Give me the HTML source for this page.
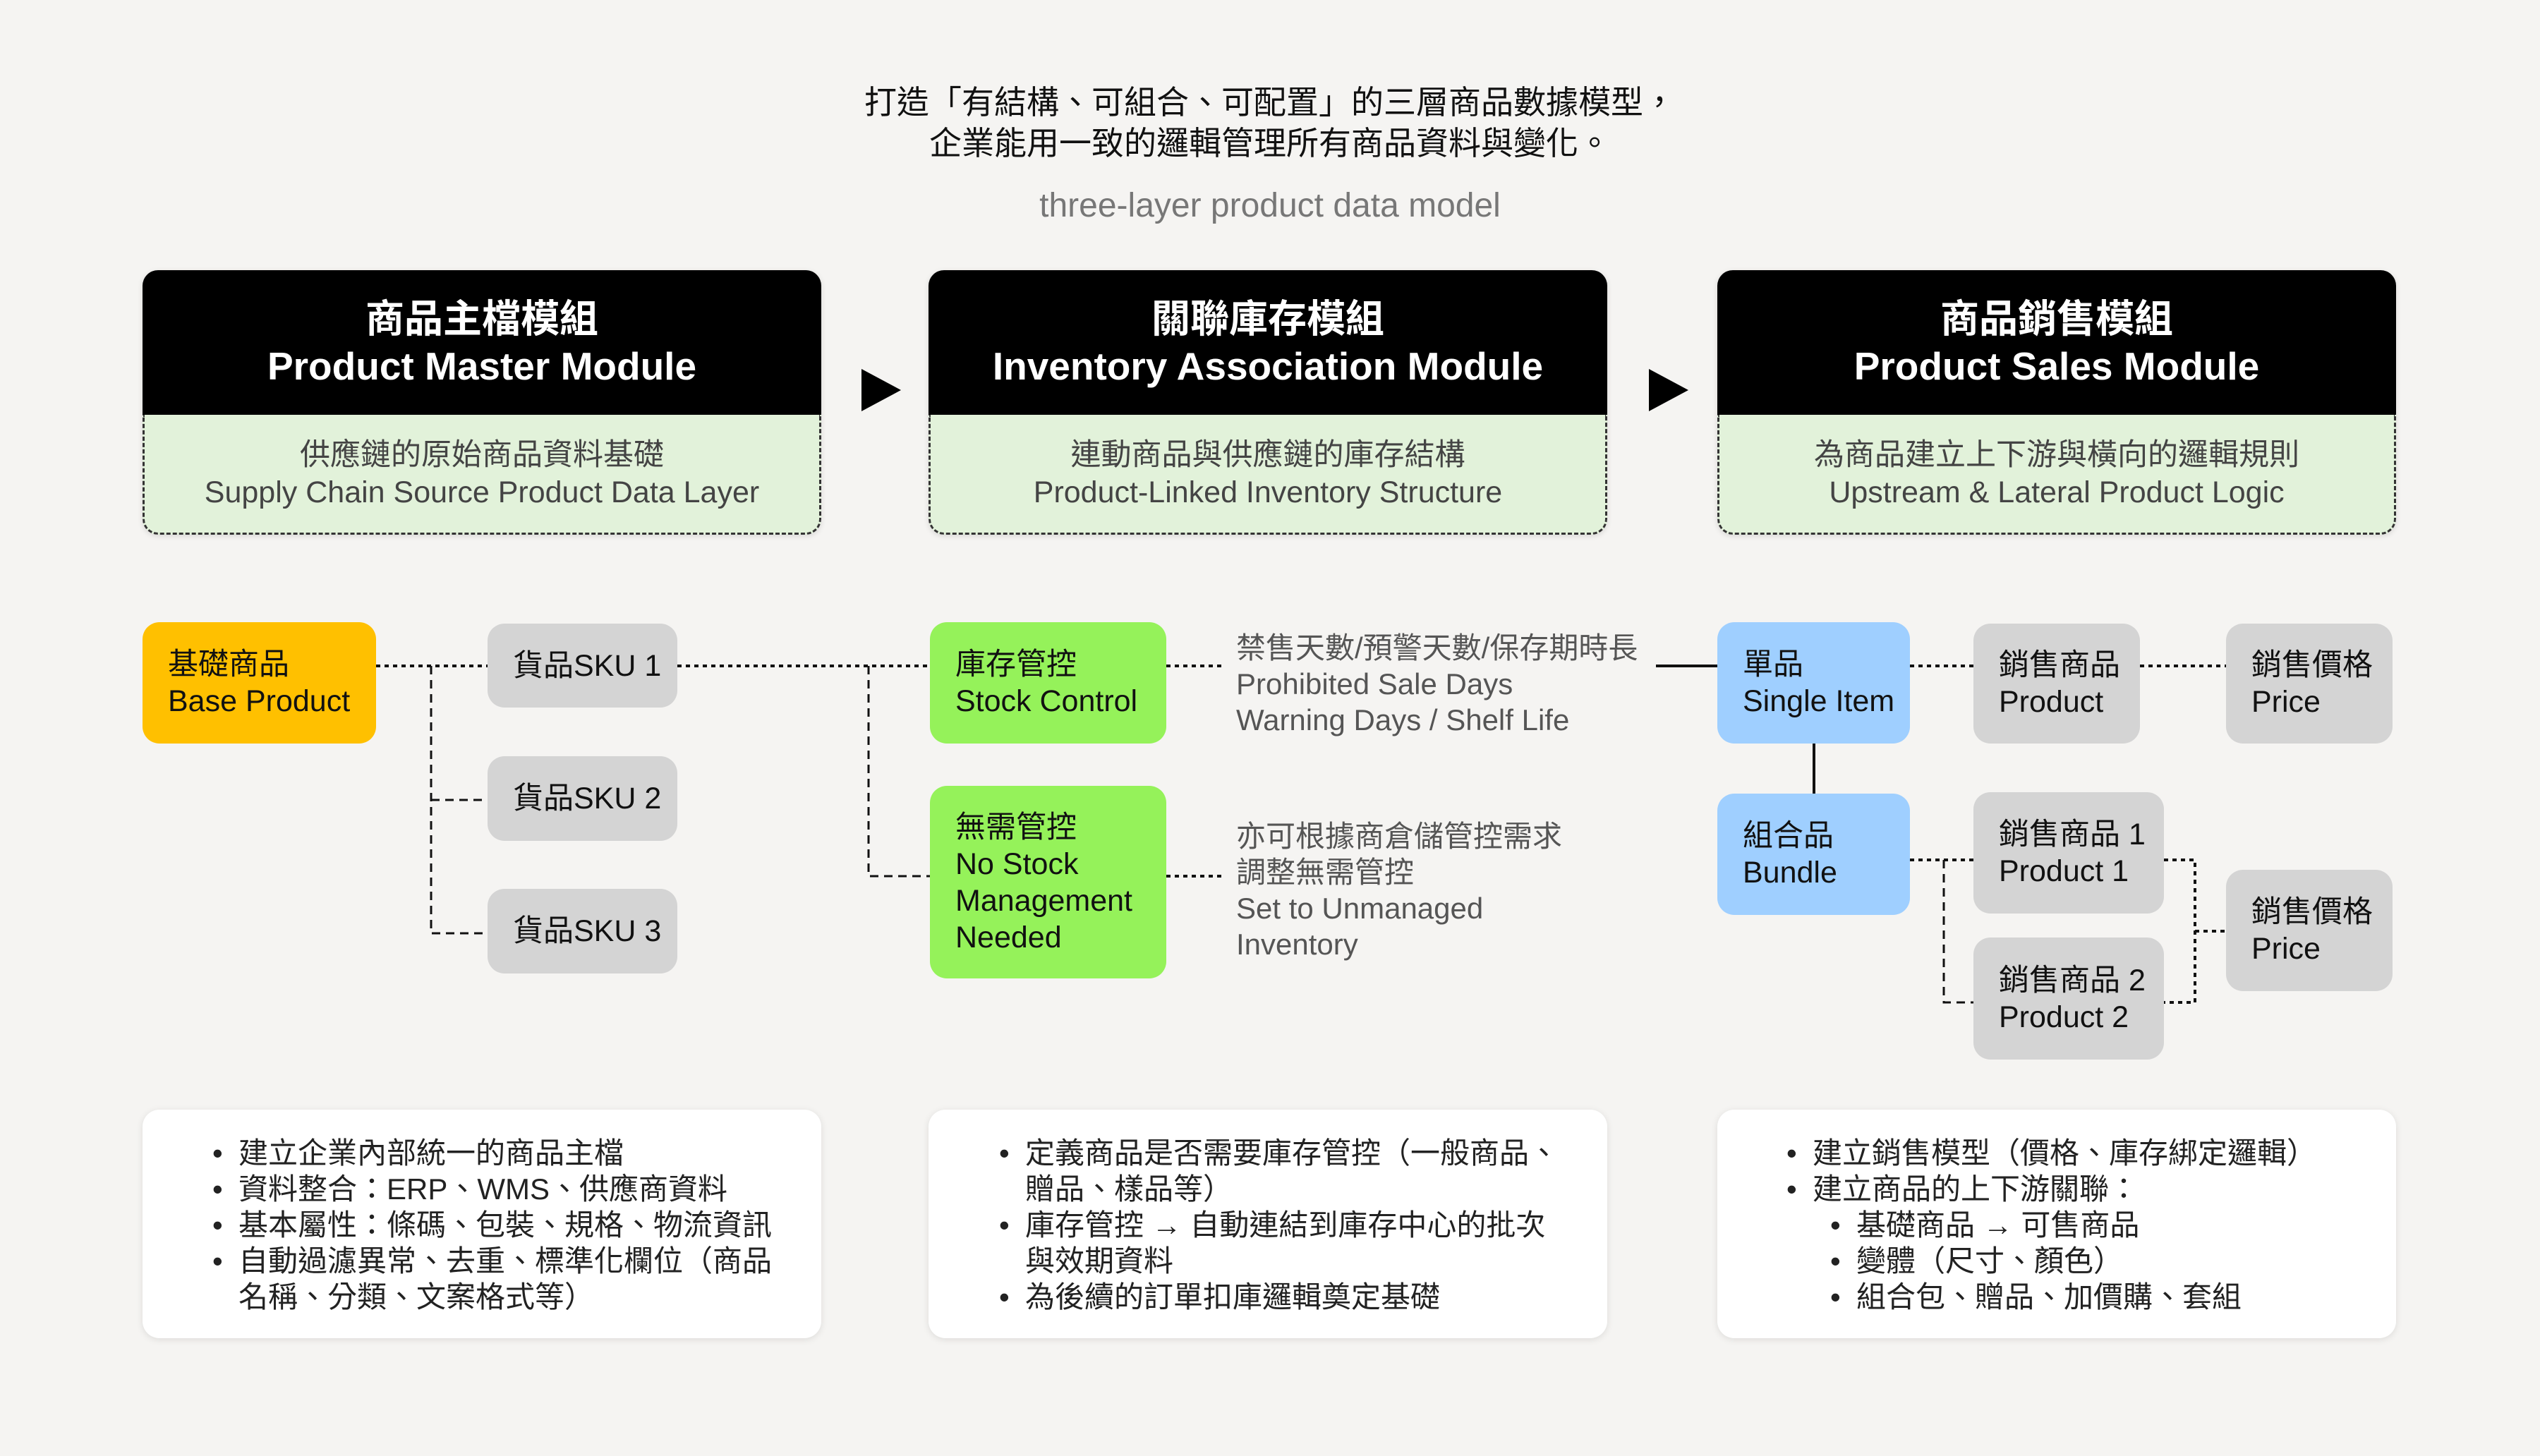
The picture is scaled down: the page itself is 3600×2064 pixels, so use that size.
<!DOCTYPE html>
<html><head><meta charset="utf-8"><style>
*{margin:0;padding:0;box-sizing:border-box}
body{width:3600px;height:2064px;background:#F5F4F2;font-family:"Liberation Sans","Noto Sans CJK TC",sans-serif;position:relative;overflow:hidden;color:#111}
.a{position:absolute}
.title{left:0;width:3600px;text-align:center;font-size:46px;line-height:58px;top:116px;color:#111}
.sub{left:0;width:3600px;text-align:center;font-size:48px;top:262px;color:#777;line-height:60px}
.hb{position:absolute;top:383px;height:375px;width:962px;border-radius:22px;overflow:hidden;box-shadow:0 2px 8px rgba(0,0,0,.12)}
.hb .t{height:205px;background:#000;color:#fff;font-weight:bold;font-size:55px;line-height:67px;text-align:center;display:flex;flex-direction:column;justify-content:center}
.hb .g{height:170px;background:#E2F2DA;border:3px dashed #333;border-top:none;border-radius:0 0 22px 22px;color:#444;font-size:43px;line-height:53px;text-align:center;display:flex;flex-direction:column;justify-content:center}
.arr{position:absolute;width:0;height:0;border-top:30px solid transparent;border-bottom:30px solid transparent;border-left:56px solid #000;top:523px}
.n{position:absolute;border-radius:24px;font-size:43px;line-height:52px;display:flex;flex-direction:column;justify-content:center;padding-left:36px;color:#111}
.gr{background:#D4D4D4}
.gt{position:absolute;font-size:42px;line-height:51px;color:#555;left:1752px}
.bb{position:absolute;top:1573px;height:324px;width:962px;background:#fff;border-radius:24px;box-shadow:0 2px 10px rgba(0,0,0,.1);font-size:42px;line-height:51px;color:#222;padding-top:36px}
.bb div{position:relative}
.bb .b::before{content:"•";position:absolute;left:-37px}
</style></head><body>
<div class="a title">打造「有結構、可組合、可配置」的三層商品數據模型，<br>企業能用一致的邏輯管理所有商品資料與變化。</div>
<div class="a sub">three-layer product data model</div>

<div class="hb" style="left:202px"><div class="t"><div>商品主檔模組</div><div>Product Master Module</div></div><div class="g"><div>供應鏈的原始商品資料基礎</div><div>Supply Chain Source Product Data Layer</div></div></div>
<div class="hb" style="left:1316px"><div class="t"><div>關聯庫存模組</div><div>Inventory Association Module</div></div><div class="g"><div>連動商品與供應鏈的庫存結構</div><div>Product-Linked Inventory Structure</div></div></div>
<div class="hb" style="left:2434px"><div class="t"><div>商品銷售模組</div><div>Product Sales Module</div></div><div class="g"><div>為商品建立上下游與橫向的邏輯規則</div><div>Upstream &amp; Lateral Product Logic</div></div></div>
<div class="arr" style="left:1221px"></div>
<div class="arr" style="left:2337px"></div>

<svg class="a" style="left:0;top:0" width="3600" height="2064">
<g fill="none" stroke="#111" stroke-width="4" stroke-dasharray="6 6">
<path d="M533 944H691M960 944H1318M1653 944H1735M1653 1242H1735M2707 944H2797M3033 944H3155M2707 1219H2797M3067 1219H3111V1421H3067M3111 1320H3155"/>
</g>
<g fill="none" stroke="#111" stroke-width="3" stroke-dasharray="12 8">
<path d="M611 944V1323H691M611 1134H691M1231 944V1242H1318M2755 1219V1421H2797"/>
</g>
<g stroke="#111" stroke-width="4"><path d="M2347 944H2434M2571 1054V1125"/></g>
</svg>

<div class="n" style="left:202px;top:882px;width:331px;height:172px;background:#FFC000"><div>基礎商品</div><div>Base Product</div></div>
<div class="n gr" style="left:691px;top:884px;width:269px;height:119px"><div>貨品SKU 1</div></div>
<div class="n gr" style="left:691px;top:1072px;width:269px;height:120px"><div>貨品SKU 2</div></div>
<div class="n gr" style="left:691px;top:1260px;width:269px;height:120px"><div>貨品SKU 3</div></div>
<div class="n" style="left:1318px;top:882px;width:335px;height:172px;background:#95F25A"><div>庫存管控</div><div>Stock Control</div></div>
<div class="n" style="left:1318px;top:1114px;width:335px;height:273px;background:#95F25A"><div>無需管控</div><div>No Stock</div><div>Management</div><div>Needed</div></div>
<div class="gt" style="top:893px">禁售天數/預警天數/保存期時長<br>Prohibited Sale Days<br>Warning Days / Shelf Life</div>
<div class="gt" style="top:1160px">亦可根據商倉儲管控需求<br>調整無需管控<br>Set to Unmanaged<br>Inventory</div>
<div class="n" style="left:2434px;top:882px;width:273px;height:172px;background:#9FCFFF"><div>單品</div><div>Single Item</div></div>
<div class="n" style="left:2434px;top:1125px;width:273px;height:172px;background:#9FCFFF"><div>組合品</div><div>Bundle</div></div>
<div class="n gr" style="left:2797px;top:884px;width:236px;height:170px"><div>銷售商品</div><div>Product</div></div>
<div class="n gr" style="left:3155px;top:884px;width:236px;height:170px"><div>銷售價格</div><div>Price</div></div>
<div class="n gr" style="left:2797px;top:1123px;width:270px;height:172px"><div>銷售商品 1</div><div>Product 1</div></div>
<div class="n gr" style="left:2797px;top:1329px;width:270px;height:173px"><div>銷售商品 2</div><div>Product 2</div></div>
<div class="n gr" style="left:3155px;top:1233px;width:236px;height:172px"><div>銷售價格</div><div>Price</div></div>

<div class="bb" style="left:202px;padding-left:136px">
<div class="b">建立企業內部統一的商品主檔</div>
<div class="b">資料整合：ERP、WMS、供應商資料</div>
<div class="b">基本屬性：條碼、包裝、規格、物流資訊</div>
<div class="b">自動過濾異常、去重、標準化欄位（商品</div>
<div>名稱、分類、文案格式等）</div>
</div>
<div class="bb" style="left:1316px;padding-left:137px">
<div class="b">定義商品是否需要庫存管控（一般商品、</div>
<div>贈品、樣品等）</div>
<div class="b">庫存管控 → 自動連結到庫存中心的批次</div>
<div>與效期資料</div>
<div class="b">為後續的訂單扣庫邏輯奠定基礎</div>
</div>
<div class="bb" style="left:2434px;padding-left:135px">
<div class="b">建立銷售模型（價格、庫存綁定邏輯）</div>
<div class="b">建立商品的上下游關聯：</div>
<div class="b" style="left:62px">基礎商品 → 可售商品</div>
<div class="b" style="left:62px">變體（尺寸、顏色）</div>
<div class="b" style="left:62px">組合包、贈品、加價購、套組</div>
</div>
</body></html>
